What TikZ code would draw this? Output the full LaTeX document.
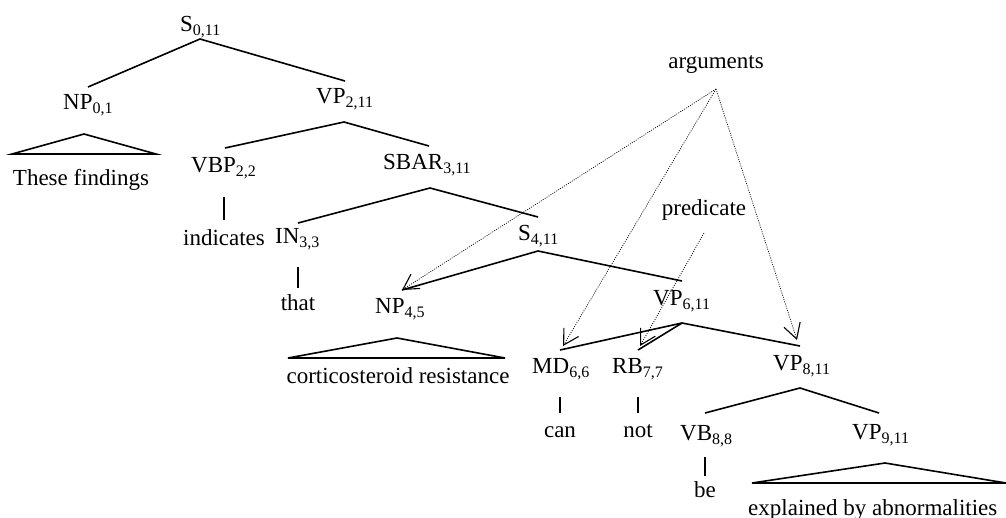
\documentclass[tikz,border=0pt]{standalone}
\usepackage{fontspec}
\setmainfont{Liberation Serif}
\usetikzlibrary{arrows.meta}
\newcommand{\tsub}[1]{\raisebox{-4pt}{\fontsize{16}{16}\selectfont #1}}
\begin{document}
\begin{tikzpicture}[x=1pt,y=-1pt,
  lab/.style={anchor=base west, inner sep=0pt, font=\fontsize{23}{27}\selectfont},
  word/.style={anchor=base, inner sep=0pt, font=\fontsize{23}{27}\selectfont},
  branch/.style={line width=1.6pt},
  argarrow/.style={line width=0.7pt, dash pattern=on 1pt off 1.3pt,
    -{Straight Barb[length=15pt,width=17pt,line width=1.1pt]}}]
\useasboundingbox (0,0) rectangle (1006,517);

% labels
\node[lab] (S0)   at (180,31)  {S\tsub{0,11}};
\node[lab] (NP0)  at (63,109)  {NP\tsub{0,1}};
\node[lab] (VP2)  at (316,103) {VP\tsub{2,11}};
\node[word] (w01) at (81,185)  {These findings};
\node[lab] (VBP)  at (191,172) {VBP\tsub{2,2}};
\node[lab] (SBAR) at (383,169) {SBAR\tsub{3,11}};
\node[word] (w2)  at (224,245) {indicates};
\node[lab] (IN)   at (275,243) {IN\tsub{3,3}};
\node[lab] (S4)   at (518,240) {S\tsub{4,11}};
\node[word] (w3)  at (298,310) {that};
\node[lab] (NP4)  at (375,313) {NP\tsub{4,5}};
\node[word] (w45) at (398,383) {corticosteroid resistance};
\node[lab] (VP6)  at (653,305) {VP\tsub{6,11}};
\node[lab] (MD)   at (532,373) {MD\tsub{6,6}};
\node[lab] (RB)   at (612,373) {RB\tsub{7,7}};
\node[lab] (VP8)  at (773,370) {VP\tsub{8,11}};
\node[word] (w6)  at (560,437) {can};
\node[word] (w7)  at (638,437) {not};
\node[lab] (VB)   at (680,440) {VB\tsub{8,8}};
\node[lab] (VP9)  at (852,439) {VP\tsub{9,11}};
\node[word] (w8)  at (705,497) {be};
\node[lab] (w911) at (748,515) {explained by abnormalities};
\node[word] (args) at (716,68) {arguments};
\node[word] (pred) at (704,215) {predicate};

% joints
\coordinate (S0d) at (200,39);  \coordinate (NP0u) at (88,87);  \coordinate (VP2u) at (345,81);
\coordinate (NP0d) at (84,134); \coordinate (NP0l) at (12,154); \coordinate (NP0r) at (156,154);
\coordinate (VP2d) at (344,122); \coordinate (VBPu) at (225,148); \coordinate (SBARu) at (429,146);
\coordinate (VBPd) at (224,197); \coordinate (w2u) at (224,220);
\coordinate (SBARd) at (430,188); \coordinate (INu) at (298,223); \coordinate (S4u) at (538,217);
\coordinate (INd) at (298,267); \coordinate (w3u) at (298,288);
\coordinate (S4d) at (538,251); \coordinate (NP4u) at (402,290); \coordinate (VP6u) at (682,281);
\coordinate (NP4d) at (397,338); \coordinate (NP4l) at (288,358); \coordinate (NP4r) at (505,358);
\coordinate (VP6d) at (682,323); \coordinate (MDu) at (560,350); \coordinate (RBu) at (638,350); \coordinate (VP8u) at (800,346);
\coordinate (MDd) at (560,397); \coordinate (w6u) at (560,413);
\coordinate (RBd) at (638,397); \coordinate (w7u) at (638,413);
\coordinate (VP8d) at (800,388); \coordinate (VBu) at (705,413); \coordinate (VP9u) at (879,413);
\coordinate (VBd) at (705,457); \coordinate (w8u) at (705,476);
\coordinate (VP9d) at (885,463); \coordinate (VP9l) at (752,483); \coordinate (VP9r) at (1006,483);
\coordinate (argsd) at (716,89); \coordinate (predd) at (704,233);
\coordinate (NP4a) at (402,290); \coordinate (MDa) at (563,346); \coordinate (VP8a) at (797,340); \coordinate (RBa) at (640,346);

% branches
\draw[branch] (NP0u) -- (S0d) -- (VP2u);
\draw[branch] (NP0l) -- (NP0d) -- (NP0r) -- cycle;
\draw[branch] (VBPu) -- (VP2d) -- (SBARu);
\draw[branch] (VBPd) -- (w2u);
\draw[branch] (INu) -- (SBARd) -- (S4u);
\draw[branch] (INd) -- (w3u);
\draw[branch] (NP4u) -- (S4d) -- (VP6u);
\draw[branch] (NP4l) -- (NP4d) -- (NP4r) -- cycle;
\draw[branch] (MDu) -- (VP6d) -- (VP8u);
\draw[branch] (VP6d) -- (RBu);
\draw[branch] (MDd) -- (w6u);
\draw[branch] (RBd) -- (w7u);
\draw[branch] (VBu) -- (VP8d) -- (VP9u);
\draw[branch] (VBd) -- (w8u);
\draw[branch] (VP9l) -- (VP9d) -- (VP9r) -- cycle;

% argument / predicate arrows
\draw[argarrow] (argsd) -- (NP4a);
\draw[argarrow] (argsd) -- (MDa);
\draw[argarrow] (argsd) -- (VP8a);
\draw[argarrow] (predd) -- (RBa);
\end{tikzpicture}
\end{document}
